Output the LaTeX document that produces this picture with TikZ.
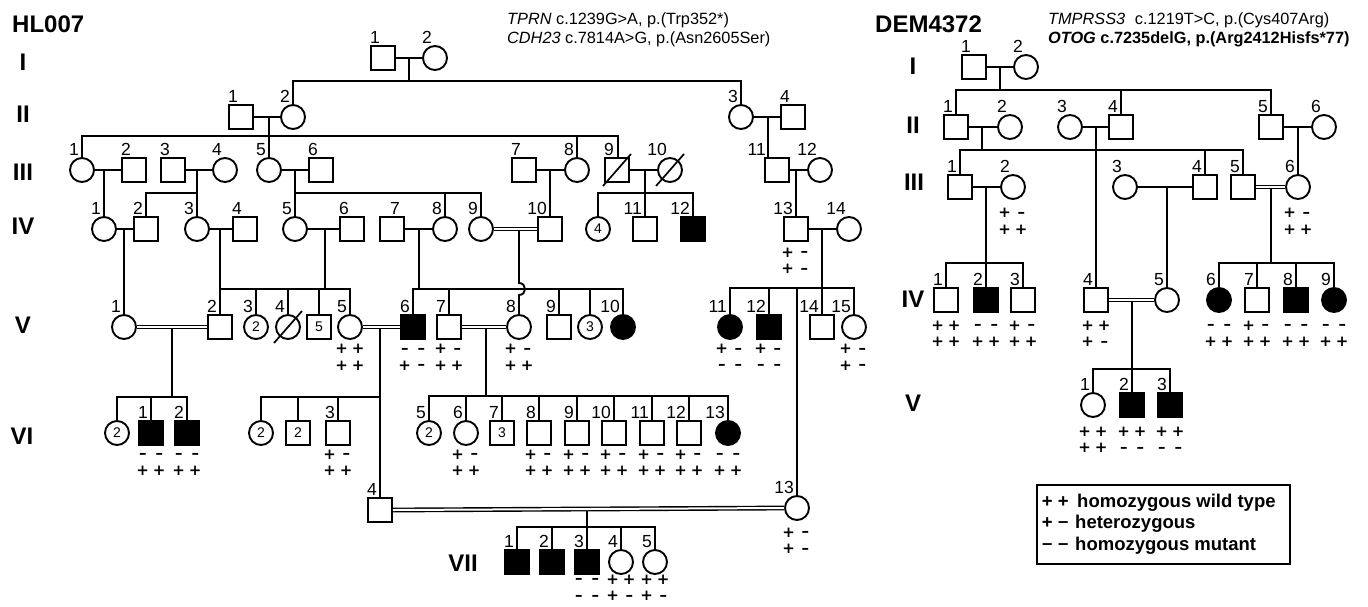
\documentclass[tikz,border=0pt]{standalone}
\usepackage{fontspec}
\setmainfont{Liberation Sans}
\newfontfamily\gtfont{DejaVu Sans}
\newcommand\gs[1]{\if#1-\raisebox{0.8pt}{–}\else#1\fi}
\newcommand\ls[1]{\if#1-\raisebox{0.6pt}{–}\else#1\fi}
\newcommand\gp[2]{\makebox[16.5pt]{\gs{#1}}\makebox[16.5pt]{\gs{#2}}\vphantom{+}}
\newcommand\indx[6]{\node[#1] (#2) at (#3) {#5};\node[lbl] at ([xshift=#6,yshift=1.5pt]#2.north) {#4};}
\newcommand\ind[5]{\indx{#1}{#2}{#3}{#4}{#5}{-3pt}}
\newcommand\geno[7]{\node[gt] at (#1 |- 0,#2) {\gp{#4}{#5}\\\gp{#6}{#7}};}
\begin{document}
\begin{tikzpicture}[x=1pt,y=-1pt,
 sym/.style={draw,line width=1.9pt,minimum size=24pt,inner sep=0pt,fill=white,font=\fontsize{14}{14}\selectfont},
 msym/.style={sym,rectangle},
 fsym/.style={sym,circle},
 aff/.style={fill=black},
 lbl/.style={anchor=south east,inner sep=0pt,font=\fontsize{17.5}{17.5}\selectfont},
 gt/.style={inner sep=0pt,align=center,font=\gtfont\bfseries\fontsize{15}{16.5}\selectfont},
 ln/.style={line width=1.9pt,line cap=rect},
 sl/.style={line width=1.7pt},
 dbl/.style={double,double distance=2pt,line width=1.4pt},
 gen/.style={inner sep=0pt,font=\bfseries\fontsize{24}{24}\selectfont},
 ttl/.style={inner sep=0pt,anchor=base west,font=\bfseries\fontsize{24}{24}\selectfont},
 var/.style={inner sep=0pt,anchor=base west,font=\fontsize{16.3}{16.3}\selectfont},
 leg/.style={inner sep=0pt,anchor=base west,font=\bfseries\fontsize{18.5}{18.5}\selectfont}
]
\fill[white] (0,0) rectangle (1368,606);
\useasboundingbox (0,0) rectangle (1368,606);

% ---------------- titles ----------------
\node[ttl] (t1) at (12,32) {HL007};
\node[ttl] (t2) at (875,32) {DEM4372};
\node[var] (v1) at (507,24.5) {\textit{TPRN} c.1239G>A, p.(Trp352*)};
\node[var] (v2) at (507,43.5) {\textit{CDH23} c.7814A>G, p.(Asn2605Ser)};
\node[var] (v3) at (1048,24.5) {\textit{TMPRSS3}\hspace{0.6em}c.1219T>C, p.(Cys407Arg)};
\node[var,font=\bfseries\fontsize{16.3}{16.3}\selectfont] (v4) at (1048,43) {\textit{OTOG} c.7235delG, p.(Arg2412Hisfs*77)};

% generation labels
\node[gen] (g1) at (23,62) {I};
\node[gen] (g2) at (23,114) {II};
\node[gen] (g3) at (23,172) {III};
\node[gen] (g4) at (23,226) {IV};
\node[gen] (g5) at (23,325) {V};
\node[gen] (g6) at (22,436) {VI};
\node[gen] (g7) at (463,563) {VII};
\node[gen] (h1) at (913,66) {I};
\node[gen] (h2) at (913,125) {II};
\node[gen] (h3) at (914,182) {III};
\node[gen] (h4) at (913,299) {IV};
\node[gen] (h5) at (913,403) {V};

% ---------------- HL007 individuals ----------------
\ind{msym}{a11}{383,58}{1}{}
\ind{fsym}{a12}{435,58}{2}{}
\ind{msym}{a21}{241,117}{1}{}
\ind{fsym}{a22}{293,117}{2}{}
\ind{fsym}{a23}{741,117}{3}{}
\ind{msym}{a24}{793,117}{4}{}
\ind{fsym}{a31}{82,170}{1}{}
\ind{msym}{a32}{134,170}{2}{}
\ind{msym}{a33}{173,170}{3}{}
\ind{fsym}{a34}{225,170}{4}{}
\ind{fsym}{a35}{269,170}{5}{}
\ind{msym}{a36}{321,170}{6}{}
\ind{msym}{a37}{524,170}{7}{}
\ind{fsym}{a38}{577,170}{8}{}
\ind{msym}{a39}{617,170}{9}{}
\ind{fsym}{a310}{670,170}{10}{}
\indx{msym}{a311}{777,170}{11}{}{-11pt}
\ind{fsym}{a312}{820,170}{12}{}
\ind{fsym}{a41}{104,229}{1}{}
\ind{msym}{a42}{146,229}{2}{}
\ind{fsym}{a43}{197,229}{3}{}
\ind{msym}{a44}{245,229}{4}{}
\ind{fsym}{a45}{295,229}{5}{}
\ind{msym}{a46}{352,229}{6}{}
\indx{msym}{a47}{392,229}{7}{}{8pt}
\ind{fsym}{a48}{445,229}{8}{}
\ind{fsym}{a49}{481,229}{9}{}
\ind{msym}{a410}{550,229}{10}{}
\ind{fsym}{a4x}{598,229}{}{4}
\ind{msym}{a411}{645,229}{11}{}
\ind{msym,aff}{a412}{693,229}{12}{}
\ind{msym}{a413}{796,229}{13}{}
\ind{fsym}{a414}{849,229}{14}{}
\ind{fsym}{a51}{124,327}{1}{}
\ind{msym}{a52}{220,327}{2}{}
\ind{fsym}{a53}{256,327}{3}{2}
\ind{fsym}{a54}{288,327}{4}{}
\ind{msym}{a5x}{319,327}{}{5}
\ind{fsym}{a55}{350,327}{5}{}
\ind{msym,aff}{a56}{413,327}{6}{}
\ind{msym}{a57}{449,327}{7}{}
\ind{fsym}{a58}{519,327}{8}{}
\ind{msym}{a59}{559,327}{9}{}
\ind{fsym}{a5y}{590,327}{}{3}
\ind{fsym,aff}{a510}{623,327}{10}{}
\ind{fsym,aff}{a511}{730,327}{11}{}
\ind{msym,aff}{a512}{769,327}{12}{}
\ind{fsym}{a513}{797,508}{13}{}
\ind{msym}{a514}{822,327}{14}{}
\ind{fsym}{a515}{854,327}{15}{}
\ind{fsym}{a6x}{117,433}{}{2}
\ind{msym,aff}{a61}{151,433}{1}{}
\ind{msym,aff}{a62}{187,433}{2}{}
\ind{fsym}{a6y}{261,433}{}{2}
\ind{msym}{a6z}{298,433}{}{2}
\ind{msym}{a63}{338,433}{3}{}
\ind{msym}{a64}{380,510}{4}{}
\ind{fsym}{a65}{429,433}{5}{2}
\ind{fsym}{a66}{466,433}{6}{}
\ind{msym}{a67}{502,433}{7}{3}
\ind{msym}{a68}{539,433}{8}{}
\ind{msym}{a69}{577,433}{9}{}
\ind{msym}{a610}{614,433}{10}{}
\ind{msym}{a611}{652,433}{11}{}
\ind{msym}{a612}{689,433}{12}{}
\ind{fsym,aff}{a613}{728,433}{13}{}
\ind{msym,aff}{a71}{517,562}{1}{}
\ind{msym,aff}{a72}{552,562}{2}{}
\ind{msym,aff}{a73}{587,562}{3}{}
\ind{fsym}{a74}{621,562}{4}{}
\ind{fsym}{a75}{655,562}{5}{}

% deceased
\foreach \c in {a39,a310,a54}
  \draw[sl] ([shift={(-14,16)}]\c.center) -- ([shift={(14,-16)}]\c.center);

% ---------------- HL007 lines ----------------
\draw[ln] (a11.east) -- (a12.west);
\coordinate (pa1) at (409,58);
\draw[ln] (pa1) -- (pa1 |- 0,81);
\draw[ln] (a22 |- 0,81) -- (a23 |- 0,81);
\foreach \c in {a22,a23} \draw[ln] (\c.north) -- (\c |- 0,81);

\draw[ln] (a21.east) -- (a22.west);
\coordinate (pa2) at (269,117);
\draw[ln] (pa2) -- (a35.north);
\draw[ln] (a31 |- 0,136) -- (618,136);
\foreach \c in {a31,a38} \draw[ln] (\c.north) -- (\c |- 0,136);
\draw[ln] ([xshift=1pt]a39.north) -- (618,136);

\draw[ln] (a23.east) -- (a24.west);
\coordinate (pa3) at (768,117);
\draw[ln] (pa3) -- (pa3 |- a311.north);

\draw[ln] (a31.east) -- (a32.west);
\coordinate (pa4) at (104,170);
\draw[ln] (pa4) -- (a41.north);

\draw[ln] (a33.east) -- (a34.west);
\coordinate (pa5) at (197,170);
\draw[ln] (pa5) -- (a43.north);
\draw[ln] (a42 |- 0,193) -- (pa5 |- 0,193);
\draw[ln] (a42.north) -- (a42 |- 0,193);

\draw[ln] (a35.east) -- (a36.west);
\coordinate (pa6) at (295,170);
\draw[ln] (pa6) -- (a45.north);
\draw[ln] (a45 |- 0,193) -- (a49 |- 0,193);
\foreach \c in {a48,a49} \draw[ln] (\c.north) -- (\c |- 0,193);

\draw[ln] (a37.east) -- (a38.west);
\coordinate (pa7) at (550,170);
\draw[ln] (pa7) -- (a410.north);

\draw[ln] (a39.east) -- (a310.west);
\coordinate (pa8) at (645,170);
\draw[ln] (pa8) -- (a411.north);
\draw[ln] (a4x |- 0,193) -- (a412 |- 0,193);
\foreach \c in {a4x,a412} \draw[ln] (\c.north) -- (\c |- 0,193);

\draw[ln] (a311.east) -- (a312.west);
\coordinate (pa9) at (796,170);
\draw[ln] (pa9) -- (a413.north);

\draw[ln] (a41.east) -- (a42.west);
\coordinate (pb1) at (124,229);
\draw[ln] (pb1) -- (a51.north);

\draw[ln] (a43.east) -- (a44.west);
\coordinate (pb2) at (220,229);
\draw[ln] (pb2) -- (a52.north);
\draw[ln] (a52 |- 0,289) -- (a55 |- 0,289);
\foreach \c in {a53,a54,a5x,a55} \draw[ln] (\c.north) -- (\c |- 0,289);

\draw[ln] (a45.east) -- (a46.west);
\coordinate (pb3) at (325,229);
\draw[ln] (pb3) -- (pb3 |- 0,289);

\draw[ln] (a47.east) -- (a48.west);
\coordinate (pb4) at (419,229);
\draw[ln] (pb4) -- (pb4 |- 0,289);
\draw[ln] (a56 |- 0,289) -- (a510 |- 0,289);
\foreach \c in {a56,a57,a59,a5y,a510} \draw[ln] (\c.north) -- (\c |- 0,289);

\coordinate (pb5) at (519,229);
\draw[ln] (pb5) -- (pb5 |- 0,283) .. controls (527,283) and (527,295) .. (519,295) -- (a58.north);
\draw[dbl] (a49.east) -- (a410.west);

\draw[ln] (a413.east) -- (a414.west);
\coordinate (pb6) at (822,229);
\draw[ln] (pb6) -- (a514.north);
\draw[ln] (a511 |- 0,288) -- (a515 |- 0,288);
\foreach \c in {a511,a512,a513,a515} \draw[ln] (\c.north) -- (\c |- 0,288);

\coordinate (pc1) at (172,327);
\draw[ln] (pc1) -- (pc1 |- 0,397);
\draw[ln] (a6x |- 0,397) -- (a62 |- 0,397);
\foreach \c in {a6x,a61,a62} \draw[ln] (\c.north) -- (\c |- 0,397);
\draw[dbl] (a51.east) -- (a52.west);

\coordinate (pc2) at (380,327);
\draw[ln] (pc2) -- (a64.north);
\draw[ln] (a6y |- 0,397) -- (a64 |- 0,397);
\foreach \c in {a6y,a6z,a63} \draw[ln] (\c.north) -- (\c |- 0,397);
\draw[dbl] (a55.east) -- (a56.west);

\coordinate (pc3) at (486,327);
\draw[ln] (pc3) -- (pc3 |- 0,396);
\draw[ln] (a65 |- 0,396) -- (a613 |- 0,396);
\foreach \c in {a65,a66,a67,a68,a69,a610,a611,a612,a613} \draw[ln] (\c.north) -- (\c |- 0,396);
\draw[dbl] (a57.east) -- (a58.west);

\coordinate (pd1) at (587,510);
\draw[ln] (pd1) -- (a73.north);
\draw[ln] (a71 |- 0,527) -- (a75 |- 0,527);
\foreach \c in {a71,a72,a74,a75} \draw[ln] (\c.north) -- (\c |- 0,527);
\draw[dbl] (a64.east) -- (a513.west);

% HL007 genotypes (centre of the two rows)
\geno{a413}{261}{}{+}{-}{+}{-}
\geno{a55}{357.5}{}{+}{+}{+}{+}
\geno{a56}{357.5}{}{-}{-}{+}{-}
\geno{a57}{357.5}{}{+}{-}{+}{+}
\geno{a58}{357.5}{}{+}{-}{+}{+}
\geno{a511}{357.5}{}{+}{-}{-}{-}
\geno{a512}{357.5}{}{+}{-}{-}{-}
\geno{a515}{357.5}{}{+}{-}{+}{-}
\geno{a61}{463}{}{-}{-}{+}{+}
\geno{a62}{463}{}{-}{-}{+}{+}
\geno{a63}{463}{}{+}{-}{+}{+}
\geno{a66}{463}{}{+}{-}{+}{+}
\geno{a68}{463}{}{+}{-}{+}{+}
\geno{a69}{463}{}{+}{-}{+}{+}
\geno{a610}{463}{}{+}{-}{+}{+}
\geno{a611}{463}{}{+}{-}{+}{+}
\geno{a612}{463}{}{+}{-}{+}{+}
\geno{a613}{463}{}{-}{-}{+}{+}
\geno{a513}{541}{}{+}{-}{+}{-}
\geno{a73}{588}{}{-}{-}{-}{-}
\geno{a74}{588}{}{+}{+}{+}{-}
\geno{a75}{588}{}{+}{+}{+}{-}

% ---------------- DEM4372 individuals ----------------
\ind{msym}{b11}{974,67}{1}{}
\ind{fsym}{b12}{1026,67}{2}{}
\ind{msym}{b21}{956,127}{1}{}
\ind{fsym}{b22}{1010,127}{2}{}
\ind{fsym}{b23}{1070,127}{3}{}
\ind{msym}{b24}{1121,127}{4}{}
\ind{msym}{b25}{1271,127}{5}{}
\ind{fsym}{b26}{1324,127}{6}{}
\ind{msym}{b31}{960,187}{1}{}
\ind{fsym}{b32}{1013,187}{2}{}
\ind{fsym}{b33}{1125,187}{3}{}
\ind{msym}{b34}{1205,187}{4}{}
\ind{msym}{b35}{1243,187}{5}{}
\ind{fsym}{b36}{1298,187}{6}{}
\ind{msym}{b41}{946,300}{1}{}
\ind{msym,aff}{b42}{986,300}{2}{}
\ind{msym}{b43}{1023,300}{3}{}
\ind{msym}{b44}{1096,300}{4}{}
\ind{fsym}{b45}{1167,300}{5}{}
\ind{fsym,aff}{b46}{1219,300}{6}{}
\ind{msym}{b47}{1257,300}{7}{}
\ind{msym,aff}{b48}{1296,300}{8}{}
\ind{fsym,aff}{b49}{1334,300}{9}{}
\ind{fsym}{b51}{1093,405}{1}{}
\ind{msym,aff}{b52}{1132,405}{2}{}
\ind{msym,aff}{b53}{1170,405}{3}{}

% ---------------- DEM4372 lines ----------------
\draw[ln] (b11.east) -- (b12.west);
\coordinate (qa1) at (1000,67);
\draw[ln] (qa1) -- (qa1 |- 0,90);
\draw[ln] (b21 |- 0,90) -- (b25 |- 0,90);
\foreach \c in {b21,b24,b25} \draw[ln] (\c.north) -- (\c |- 0,90);

\draw[ln] (b21.east) -- (b22.west);
\coordinate (qa2) at (982,127);
\draw[ln] (qa2) -- (qa2 |- 0,150);
\draw[ln] (b31 |- 0,150) -- (b35 |- 0,150);
\foreach \c in {b31,b34,b35} \draw[ln] (\c.north) -- (\c |- 0,150);

\draw[ln] (b23.east) -- (b24.west);
\coordinate (qa3) at (1096,127);
\draw[ln] (qa3) -- (b44.north);

\draw[ln] (b25.east) -- (b26.west);
\coordinate (qa4) at (1298,127);
\draw[ln] (qa4) -- (b36.north);

\draw[ln] (b31.east) -- (b32.west);
\coordinate (qb1) at (986,187);
\draw[ln] (qb1) -- (b42.north);
\draw[ln] (b41 |- 0,263) -- (b43 |- 0,263);
\foreach \c in {b41,b43} \draw[ln] (\c.north) -- (\c |- 0,263);

\draw[ln] (b33.east) -- (b34.west);
\coordinate (qb2) at (1167,187);
\draw[ln] (qb2) -- (b45.north);

\coordinate (qb3) at (1271,187);
\draw[ln] (qb3) -- (qb3 |- 0,263);
\draw[ln] (b46 |- 0,263) -- (b49 |- 0,263);
\foreach \c in {b46,b47,b48,b49} \draw[ln] (\c.north) -- (\c |- 0,263);
\draw[dbl] (b35.east) -- (b36.west);

\coordinate (qc1) at (1132,300);
\draw[ln] (qc1) -- (b52.north);
\draw[ln] (b51 |- 0,369) -- (b53 |- 0,369);
\foreach \c in {b51,b53} \draw[ln] (\c.north) -- (\c |- 0,369);
\draw[dbl] (b44.east) -- (b45.west);

% DEM4372 genotypes
\geno{b32}{221.5}{}{+}{-}{+}{+}
\geno{b36}{221.5}{}{+}{-}{+}{+}
\geno{b41}{334}{}{+}{+}{+}{+}
\geno{b42}{334}{}{-}{-}{+}{+}
\geno{b43}{334}{}{+}{-}{+}{+}
\geno{b44}{334}{}{+}{+}{+}{-}
\geno{b46}{334}{}{-}{-}{+}{+}
\geno{b47}{334}{}{+}{-}{+}{+}
\geno{b48}{334}{}{-}{-}{+}{+}
\geno{b49}{334}{}{-}{-}{+}{+}
\geno{b51}{440}{}{+}{+}{+}{+}
\geno{b52}{440}{}{+}{+}{-}{-}
\geno{b53}{440}{}{+}{+}{-}{-}

% ---------------- legend ----------------
\node[draw,line width=1.5pt,minimum width=253pt,minimum height=79pt,anchor=north west,inner sep=0pt] (legbox) at (1036,484) {};
\node[leg] (l1) at (1039,507) {\makebox[16pt]{+}\makebox[16pt]{+}\hspace{6pt}homozygous wild type};
\node[leg] (l2) at (1039,528) {\makebox[16pt]{+}\makebox[16pt]{\ls{-}}\hspace{4pt}heterozygous};
\node[leg] (l3) at (1039,550) {\makebox[16pt]{\ls{-}}\makebox[16pt]{\ls{-}}\hspace{4pt}homozygous mutant};
\end{tikzpicture}
\end{document}
